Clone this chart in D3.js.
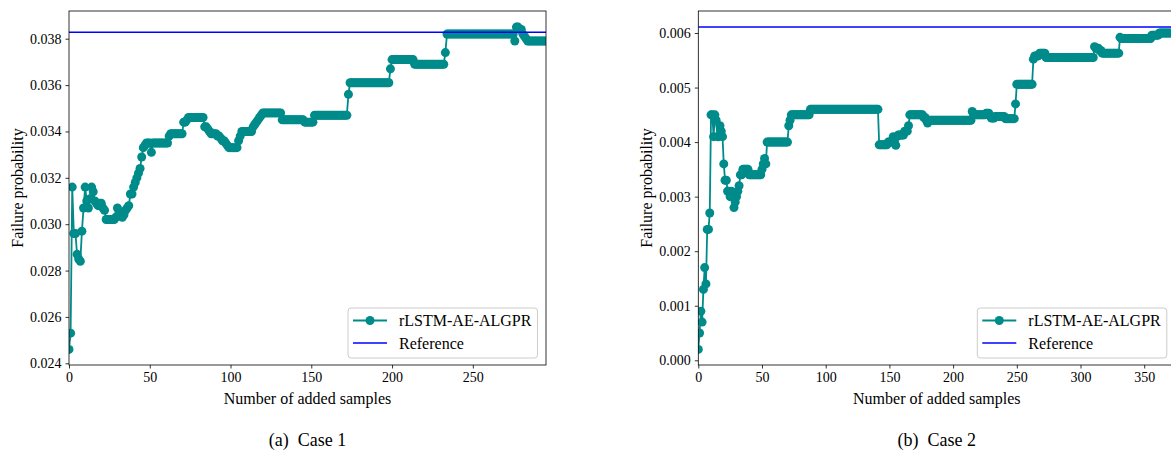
<!DOCTYPE html>
<html>
<head>
<meta charset="utf-8">
<script src="https://cdn.jsdelivr.net/npm/d3@7"></script>
<style>
body { margin: 0; background: #fff; }
svg text { font-family: "Liberation Serif", "Times New Roman", serif; fill: #000; }
</style>
</head>
<body>
<svg id="chart" width="1171" height="457"></svg>
<script>
// values, as runs of [count, value]
const case1Runs = [
  [1,0.0246],[1,0.0253],[1,0.0316],[2,0.0296],[1,0.0287],[1,0.0285],[1,0.0284],[1,0.0297],[1,0.0307],[1,0.0316],
  [1,0.0310],[1,0.0307],[1,0.0311],[1,0.0316],[1,0.0314],[1,0.0310],[1,0.0309],[1,0.0308],[2,0.0309],[1,0.0307],[1,0.0306],
  [6,0.0302],[1,0.0303],[1,0.0307],[1,0.0305],[1,0.0304],[1,0.0303],[1,0.0304],[1,0.0306],[1,0.0307],[1,0.0308],
  [2,0.0313],[1,0.0316],[1,0.0318],[1,0.0320],[1,0.0322],[1,0.0324],[1,0.0329],[1,0.0333],[1,0.0334],[3,0.0335],
  [1,0.0331],[10,0.0335],[1,0.0338],[8,0.0339],[2,0.0344],[1,0.0345],[10,0.0346],[2,0.0342],[1,0.0341],[1,0.0340],
  [4,0.0339],[2,0.0338],[1,0.0337],[2,0.0336],[1,0.0335],[1,0.0334],[6,0.0333],[1,0.0336],[1,0.0338],[7,0.0340],
  [1,0.0342],[1,0.0343],[1,0.0344],[1,0.0345],[1,0.0346],[1,0.0347],[12,0.0348],[14,0.0345],[6,0.0344],[21,0.0347],
  [1,0.0356],[25,0.0361],[1,0.0367],[14,0.0371],[19,0.0369],[1,0.0374],[42,0.0382],[1,0.0379],[2,0.0385],[2,0.0384],
  [1,0.0382],[1,0.0381],[1,0.0380],[12,0.0379]
];
const case2Runs = [
  [1,0.0002],[1,0.0005],[1,0.0009],[1,0.0007],[1,0.0013],[1,0.0017],[1,0.0014],[2,0.0024],[1,0.0027],
  [2,0.0045],[1,0.0041],[1,0.0045],[1,0.0044],[2,0.0041],[1,0.0043],[1,0.0042],[1,0.0041],
  [1,0.0036],[2,0.0033],[2,0.0031],[1,0.0030],[1,0.0031],[1,0.0030],[1,0.0028],[1,0.0029],[1,0.0030],[1,0.0031],[1,0.0032],[2,0.0034],
  [5,0.0035],[10,0.0034],[1,0.0035],[1,0.0036],[1,0.0037],[1,0.0036],[17,0.0040],[1,0.0043],[1,0.0044],[15,0.0045],
  [54,0.0046],[7,0.00395],[4,0.0040],[1,0.0041],[1,0.0040],[1,0.00394],[1,0.0041],[5,0.00413],[3,0.0042],[1,0.0043],
  [11,0.0045],[2,0.00445],[1,0.0044],[1,0.00435],[34,0.0044],[1,0.00456],[10,0.0045],[3,0.00453],[1,0.00448],
  [3,0.00444],[8,0.00447],[8,0.00443],[1,0.0047],[13,0.00506],[1,0.00552],[4,0.00558],[5,0.00563],[38,0.00555],
  [1,0.00575],[3,0.00572],[2,0.00568],[14,0.00563],[1,0.00592],[24,0.0059],[6,0.00596],[13,0.0060]
];
const case1Ref = 0.03828;
const case2Ref = 0.00611;
const case1YTicks = [0.024, 0.026, 0.028, 0.030, 0.032, 0.034, 0.036, 0.038];
const case2YTicks = [0.000, 0.001, 0.002, 0.003, 0.004, 0.005, 0.006];
const case1XTicks = [0, 50, 100, 150, 200, 250];
const case2XTicks = [0, 50, 100, 150, 200, 250, 300, 350];
const seriesName = "rLSTM-AE-ALGPR";
const refName = "Reference";
const captions = [["(a)", "Case 1"], ["(b)", "Case 2"]];

const teal = "#008b8b";
const serif = "'Liberation Serif', 'Times New Roman', serif";

function expand(runs) {
  let out = [];
  runs.forEach(function(r) { for (let i = 0; i < r[0]; i++) out.push(r[1]); });
  return out.map(function(v, i) { return {x: i, y: v}; });
}

let svg = d3.select("#chart");

let panels = [
  {left: 69, data: expand(case1Runs), ref: case1Ref, xMax: 295.3, yDom: [0.023927, 0.039195], yTicks: case1YTicks, xTicks: case1XTicks, cap: captions[0]},
  {left: 698.3, data: expand(case2Runs), ref: case2Ref, xMax: 374.4, yDom: [-0.0000862, 0.0064033], yTicks: case2YTicks, xTicks: case2XTicks, cap: captions[1]}
];

const plotTop = 11, plotBottom = 365, plotW = 477;

panels.forEach(function(p, k) {
  let x = d3.scaleLinear().domain([0, p.xMax]).range([p.left, p.left + plotW]);
  let y = d3.scaleLinear().domain(p.yDom).range([plotBottom, plotTop]);

  let clipId = "clip" + k;
  svg.append("clipPath").attr("id", clipId)
    .append("rect").attr("x", p.left).attr("y", plotTop).attr("width", plotW).attr("height", plotBottom - plotTop);

  let g = svg.append("g").attr("clip-path", "url(#" + clipId + ")");

  g.append("path")
    .datum(p.data)
    .attr("fill", "none")
    .attr("stroke", teal)
    .attr("stroke-width", 1.8)
    .attr("d", d3.line().x(function(d) { return x(d.x); }).y(function(d) { return y(d.y); }));

  g.selectAll("circle")
    .data(p.data)
    .enter().append("circle")
    .attr("cx", function(d) { return x(d.x); })
    .attr("cy", function(d) { return y(d.y); })
    .attr("r", 4.5)
    .attr("fill", teal);

  g.append("line")
    .attr("x1", p.left).attr("x2", p.left + plotW)
    .attr("y1", y(p.ref)).attr("y2", y(p.ref))
    .attr("stroke", "#0000ff").attr("stroke-width", 1.6);

  // axes
  let xAxis = svg.append("g")
    .attr("transform", "translate(0," + plotBottom + ")")
    .call(d3.axisBottom(x).tickValues(p.xTicks).tickSize(3.5).tickPadding(4).tickFormat(d3.format("d")));
  let yAxis = svg.append("g")
    .attr("transform", "translate(" + p.left + ",0)")
    .call(d3.axisLeft(y).tickValues(p.yTicks).tickSize(3.5).tickPadding(4).tickFormat(d3.format(".3f")));
  [xAxis, yAxis].forEach(function(a) {
    a.attr("font-family", null).attr("font-size", null);
    a.select(".domain").remove();
    a.selectAll("line").attr("stroke", "#000").attr("stroke-width", 0.8);
    a.selectAll("text").style("font-family", serif).style("font-size", "14px");
  });

  svg.append("rect")
    .attr("x", p.left).attr("y", plotTop).attr("width", plotW).attr("height", plotBottom - plotTop)
    .attr("fill", "none").attr("stroke", "#000").attr("stroke-width", 0.8);

  svg.append("text")
    .attr("x", p.left + plotW / 2).attr("y", 404)
    .attr("text-anchor", "middle").attr("font-size", 16)
    .text("Number of added samples");

  svg.append("text")
    .attr("transform", "translate(" + (p.left - 46) + "," + ((plotTop + plotBottom) / 2) + ") rotate(-90)")
    .attr("text-anchor", "middle").attr("font-size", 16)
    .text("Failure probability");

  let cap = svg.append("text")
    .attr("x", p.left + plotW / 2).attr("y", 446)
    .attr("text-anchor", "middle").attr("font-size", 18);
  cap.append("tspan").text(p.cap[0]);
  cap.append("tspan").attr("dx", 9).text(p.cap[1]);

  // legend
  let lx = p.left + 279, ly = 308;
  let leg = svg.append("g");
  leg.append("rect")
    .attr("x", lx).attr("y", ly).attr("width", 189.5).attr("height", 50).attr("rx", 3)
    .attr("fill", "#fff").attr("fill-opacity", 0.8).attr("stroke", "#ccc").attr("stroke-width", 1);
  leg.append("line").attr("x1", lx + 5).attr("x2", lx + 39).attr("y1", ly + 12.5).attr("y2", ly + 12.5)
    .attr("stroke", teal).attr("stroke-width", 1.8);
  leg.append("circle").attr("cx", lx + 22).attr("cy", ly + 12.5).attr("r", 4.5).attr("fill", teal);
  leg.append("text").attr("x", lx + 51).attr("y", ly + 18).attr("font-size", 16).text(seriesName);
  leg.append("line").attr("x1", lx + 5).attr("x2", lx + 39).attr("y1", ly + 35).attr("y2", ly + 35)
    .attr("stroke", "#0000ff").attr("stroke-width", 1.6);
  leg.append("text").attr("x", lx + 51).attr("y", ly + 40.5).attr("font-size", 16).text(refName);
});
</script>
</body>
</html>
